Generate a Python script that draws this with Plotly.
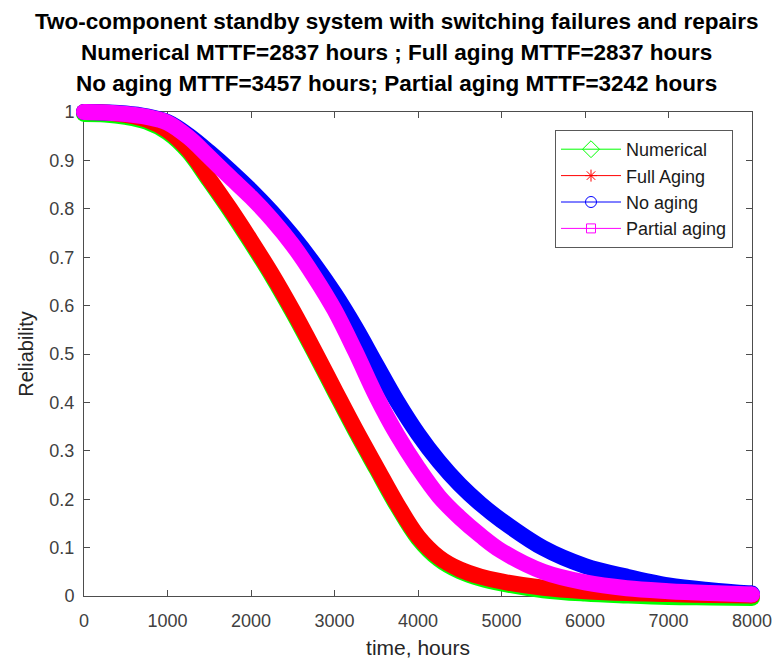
import plotly.graph_objects as go

# time grid (hours)
time_h = [0, 250, 500, 750, 1000, 1250, 1500, 1750, 2000, 2250, 2500, 2750, 3000, 3250, 3500,
          3750, 4000, 4250, 4500, 4750, 5000, 5500, 6000, 6500, 7000, 7500, 8000]

# Reliability values
numerical = [0.996, 0.995, 0.99, 0.98, 0.958, 0.918, 0.858, 0.796, 0.73, 0.661, 0.586, 0.506, 0.423,
             0.341, 0.263, 0.186, 0.119, 0.076, 0.051, 0.036, 0.026, 0.012, 0.005, 0.001, -0.002, -0.003, -0.004]
full_aging = [1.0, 0.999, 0.994, 0.984, 0.962, 0.922, 0.862, 0.80, 0.734, 0.665, 0.59, 0.51, 0.427,
              0.345, 0.267, 0.19, 0.123, 0.08, 0.055, 0.04, 0.030, 0.017, 0.010, 0.006, 0.004, 0.002, 0.001]
no_aging = [1.0, 0.999, 0.997, 0.991, 0.979, 0.952, 0.917, 0.879, 0.838, 0.793, 0.743, 0.687, 0.625,
            0.555, 0.478, 0.402, 0.335, 0.278, 0.23, 0.19, 0.156, 0.099, 0.062, 0.04, 0.022, 0.012, 0.005]
partial_aging = [1.0, 0.999, 0.996, 0.99, 0.978, 0.948, 0.907, 0.865, 0.824, 0.778, 0.725, 0.662, 0.591,
                 0.505, 0.413, 0.333, 0.265, 0.206, 0.162, 0.125, 0.093, 0.05, 0.028, 0.016, 0.010, 0.006, 0.003]

series_names = ["Numerical", "Full Aging", "No aging", "Partial aging"]
series_vals = [numerical, full_aging, no_aging, partial_aging]
series_colors = ["#00ff00", "#ff0000", "#0000ff", "#ff00ff"]
series_symbols = ["diamond-open", "asterisk-open", "circle-open", "square-open"]
symbol_sizes = [13, 10, 11, 9]

x_ticks = [0, 1000, 2000, 3000, 4000, 5000, 6000, 7000, 8000]
y_ticks = [0, 0.1, 0.2, 0.3, 0.4, 0.5, 0.6, 0.7, 0.8, 0.9, 1.0]
y_ticktext = ["0", "0.1", "0.2", "0.3", "0.4", "0.5", "0.6", "0.7", "0.8", "0.9", "1"]
x_range = [0, 8000]
y_range = [0, 1]

title_lines = [
    "Two-component standby system with switching failures and repairs",
    "Numerical MTTF=2837 hours ; Full aging MTTF=2837 hours",
    "No aging MTTF=3457 hours; Partial aging MTTF=3242 hours",
]

# ---- geometry (pixels) ----
W, H = 779, 661
BOX_L, BOX_R, BOX_T, BOX_B = 84, 752, 112, 596      # axes box
PAD = 20                                            # extra room so thick curves are not clipped
ML, MR, MT, MB = BOX_L - PAD, W - BOX_R - PAD, BOX_T - PAD, H - BOX_B - PAD
PW, PH = W - ML - MR, H - MT - MB

def px_to_paper_x(px):
    return (px - ML) / PW

def py_to_paper_y(py):
    return (H - MB - py) / PH

x_dom = [px_to_paper_x(BOX_L), px_to_paper_x(BOX_R)]
y_dom = [py_to_paper_y(BOX_B), py_to_paper_y(BOX_T)]
xu = (x_range[1] - x_range[0]) / (BOX_R - BOX_L)
yu = (y_range[1] - y_range[0]) / (BOX_B - BOX_T)
x_range2 = [x_range[0] - PAD * xu, x_range[1] + PAD * xu]
y_range2 = [y_range[0] - PAD * yu, y_range[1] + PAD * yu]

fig = go.Figure()

BAND = 16
for name, vals, col in zip(series_names, series_vals, series_colors):
    fig.add_trace(go.Scatter(
        x=time_h, y=vals, mode="lines", xaxis="x2", yaxis="y2",
        line=dict(color=col, width=BAND, shape="spline", smoothing=1.0),
        showlegend=False, hoverinfo="skip",
    ))
    fig.add_trace(go.Scatter(
        x=[time_h[0], time_h[-1]], y=[vals[0], vals[-1]], mode="markers", xaxis="x2", yaxis="y2",
        marker=dict(color=col, size=BAND, line=dict(width=0)),
        cliponaxis=False, showlegend=False, hoverinfo="skip",
    ))

# legend entries (on the main axes)
for i, (name, col, sym, sz) in enumerate(zip(series_names, series_colors, series_symbols, symbol_sizes)):
    fig.add_trace(go.Scatter(
        x=[None], y=[None], mode="lines+markers", name=name,
        line=dict(color=col, width=1),
        marker=dict(symbol=sym, size=sz, color=col, line=dict(color=col, width=1)),
    ))

title_px_y = [22, 52, 84]
for txt, ty in zip(title_lines, title_px_y):
    fig.add_annotation(
        text=txt, xref="paper", yref="paper", x=px_to_paper_x(396.5), y=py_to_paper_y(ty),
        xanchor="center", yanchor="middle", showarrow=False,
        font=dict(family="Liberation Sans, Arial, sans-serif", size=22.5, color="black", weight="bold"),
    )

axis_common = dict(
    showline=True, linecolor="#4d4d4d", linewidth=1, mirror="ticks",
    ticks="inside", ticklen=6, tickcolor="#4d4d4d", tickwidth=1,
    showgrid=False, zeroline=False, automargin=False,
    tickfont=dict(family="Liberation Sans, Arial, sans-serif", size=18, color="#404040"),
)

fig.update_layout(
    width=W, height=H,
    margin=dict(l=ML, r=MR, t=MT, b=MB),
    paper_bgcolor="white", plot_bgcolor="rgba(0,0,0,0)",
    xaxis=dict(
        domain=x_dom, anchor="y",
        range=x_range, tickvals=x_ticks, ticklabelstandoff=8,
        title=dict(text="time, hours", font=dict(family="Liberation Sans, Arial, sans-serif", size=21, color="#262626"), standoff=10),
        **axis_common,
    ),
    yaxis=dict(
        domain=y_dom, anchor="x",
        range=y_range, tickvals=y_ticks, ticktext=y_ticktext, ticklabelstandoff=5,
        title=dict(text="Reliability", font=dict(family="Liberation Sans, Arial, sans-serif", size=20, color="#262626"), standoff=10),
        **axis_common,
    ),
    xaxis2=dict(domain=[0, 1], anchor="y2", range=x_range2, visible=False, fixedrange=True),
    yaxis2=dict(domain=[0, 1], anchor="x2", range=y_range2, visible=False, fixedrange=True),
    legend=dict(
        x=px_to_paper_x(733), y=py_to_paper_y(130), xanchor="right", yanchor="top",
        bgcolor="white", bordercolor="#595959", borderwidth=1,
        font=dict(family="Liberation Sans, Arial, sans-serif", size=18, color="#1a1a1a"),
        tracegroupgap=0, itemwidth=60,
    ),
)

fig.write_html("out.html")
